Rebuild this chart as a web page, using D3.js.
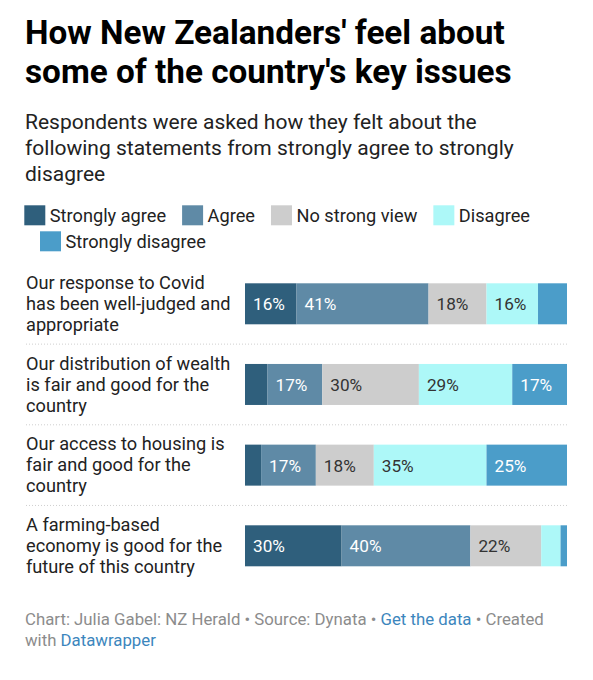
<!DOCTYPE html>
<html>
<head>
<meta charset="utf-8">
<script src="https://cdn.jsdelivr.net/npm/d3@7"></script>
<style>
html,body{margin:0;padding:0;background:#fff;}
svg{display:block;font-family:Roboto, "Noto Sans", sans-serif;}
</style>
</head>
<body>
<svg id="chart" width="593" height="680"></svg>
<script>
// ---- data ----
const categories = [
  ["Our response to Covid", "has been well-judged and", "appropriate"],
  ["Our distribution of wealth", "is fair and good for the", "country"],
  ["Our access to housing is", "fair and good for the", "country"],
  ["A farming-based", "economy is good for the", "future of this country"]
];
const seriesNames = ["Strongly agree", "Agree", "No strong view", "Disagree", "Strongly disagree"];
const stronglyAgree    = [16, 7, 5, 30];
const agree            = [41, 17, 17, 40];
const noStrongView     = [18, 30, 18, 22];
const disagree         = [16, 29, 35, 6];
const stronglyDisagree = [9, 17, 25, 2];
const colors = ["#2f5f7c", "#5f8aa6", "#cdcdcd", "#adf8f8", "#4b9dc9"];
const textColors = ["#fff", "#fff", "#333", "#333", "#fff"];

const seriesValues = [stronglyAgree, agree, noStrongView, disagree, stronglyDisagree];
const rows = categories.map((c, i) => {
  const o = {key: i, label: c};
  seriesNames.forEach((s, j) => o[s] = seriesValues[j][i]);
  return o;
});

const svg = d3.select("#chart");

// ---- title & subtitle ----
const title = ["How New Zealanders' feel about", "some of the country's key issues"];
svg.append("g").selectAll("text").data(title).join("text")
  .attr("x", 25).attr("y", (d, i) => 44 + i * 39.4)
  .attr("font-size", 33.3).attr("font-weight", 700).attr("fill", "#000")
  .text(d => d);

const subtitle = ["Respondents were asked how they felt about the",
  "following statements from strongly agree to strongly", "disagree"];
svg.append("g").selectAll("text").data(subtitle).join("text")
  .attr("x", 25).attr("y", (d, i) => 128.8 + i * 26)
  .attr("font-size", 21).attr("fill", "#222")
  .text(d => d);

// ---- legend ----
const legend = svg.append("g");
let lx = 24.3, ly = 205.3;
seriesNames.forEach((s, i) => {
  const g = legend.append("g");
  g.append("rect").attr("width", 21).attr("height", 20).attr("fill", colors[i]);
  const t = g.append("text").attr("x", 25.5).attr("y", 17).attr("font-size", 18.2)
    .attr("fill", "#222").text(s);
  const w = 25.5 + t.node().getComputedTextLength();
  if (lx + w > 570) { lx = 40; ly += 26; }
  g.attr("transform", `translate(${lx},${ly})`);
  lx += w + 16;
});

// ---- scales ----
const x = d3.scaleLinear().domain([0, 100]).range([245, 567]);
const y = d3.scalePoint().domain(rows.map(r => r.key)).range([303.8, 545.8]);
const barH = 41;
const stack = d3.stack().keys(seriesNames)(rows);

// separators
const step = y.step();
svg.append("g").selectAll("line").data(rows.slice(1)).join("line")
  .attr("x1", 26).attr("x2", 567)
  .attr("y1", d => y(d.key) - step / 2).attr("y2", d => y(d.key) - step / 2)
  .attr("stroke", "#cfcfcf").attr("stroke-width", 1).attr("stroke-dasharray", "1,2");

// row labels
const lab = svg.append("g");
rows.forEach(r => {
  const n = r.label.length;
  lab.append("g").selectAll("text").data(r.label).join("text")
    .attr("x", 26)
    .attr("y", (d, i) => y(r.key) + 6.3 + (i - (n - 1) / 2) * 21)
    .attr("font-size", 18.2).attr("fill", "#222")
    .text(d => d);
});

// bars
const bars = svg.append("g");
stack.forEach((layer, si) => {
  const g = bars.append("g");
  g.selectAll("rect").data(layer).join("rect")
    .attr("x", d => x(d[0])).attr("width", d => x(d[1]) - x(d[0]))
    .attr("y", d => y(d.data.key) - barH / 2).attr("height", barH)
    .attr("fill", colors[si]);
  g.selectAll("text").data(layer).join("text")
    .attr("x", d => x(d[0]) + 8)
    .attr("y", d => y(d.data.key) + 6.6)
    .attr("font-size", 17.2).attr("fill", textColors[si])
    .text(d => (d[1] - d[0]) + "%")
    .each(function(d) {
      const w = this.getComputedTextLength();
      if (w + 12 > x(d[1]) - x(d[0])) d3.select(this).remove();
    });
});

// ---- footer ----
const f1 = svg.append("text").attr("x", 25).attr("y", 625).attr("font-size", 16.8).attr("fill", "#8c8c8c");
f1.append("tspan").text("Chart: Julia Gabel: NZ Herald • Source: Dynata • ");
f1.append("tspan").attr("fill", "#3c86bd").text("Get the data");
f1.append("tspan").text(" • Created");
const f2 = svg.append("text").attr("x", 25).attr("y", 646).attr("font-size", 16.8).attr("fill", "#8c8c8c");
f2.append("tspan").text("with ");
f2.append("tspan").attr("fill", "#3c86bd").text("Datawrapper");
</script>
</body>
</html>
